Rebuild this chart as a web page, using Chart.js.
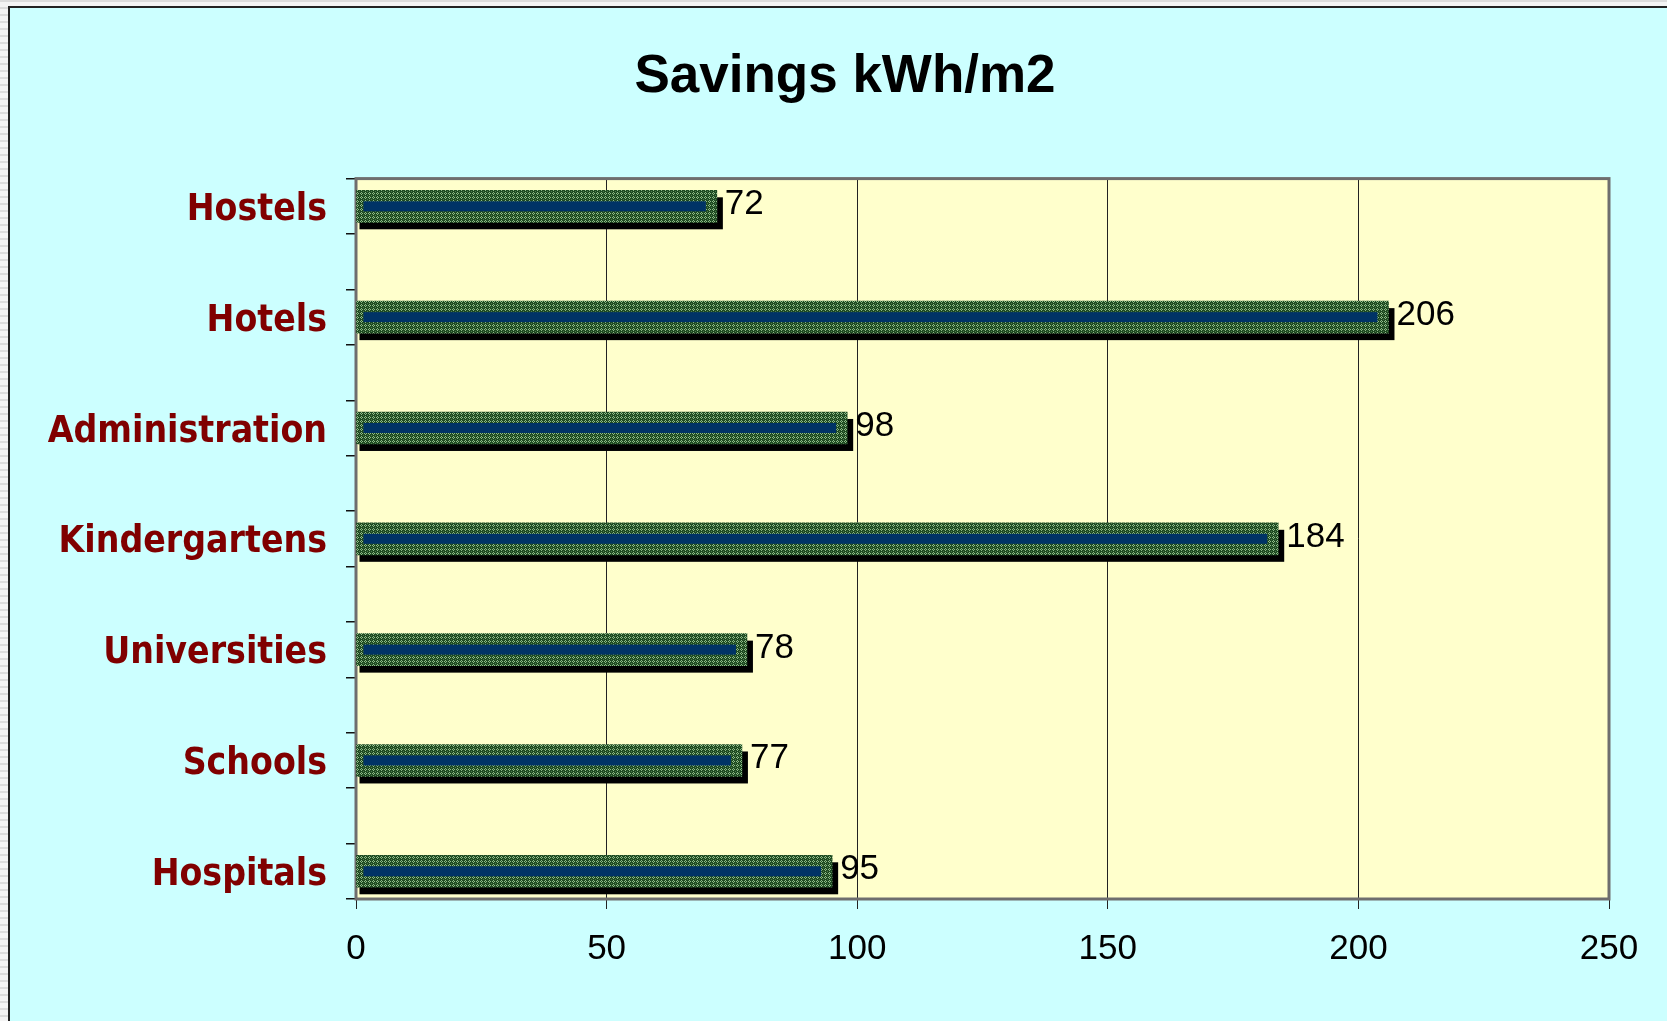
<!DOCTYPE html>
<html><head><meta charset="utf-8">
<script src="https://cdn.jsdelivr.net/npm/chart.js@4.4.1/dist/chart.umd.min.js"></script>
<style>html,body{margin:0;padding:0;background:#fff;overflow:hidden}#wrap{width:1667px;height:1021px}</style>
</head><body><div id="wrap"><canvas id="c" width="1667" height="1021"></canvas></div>
<script>
const categories = ['Hostels','Hotels','Administration','Kindergartens','Universities','Schools','Hospitals'];
const savings = [72, 206, 98, 184, 78, 77, 95];
const xTicks = [0, 50, 100, 150, 200, 250];
const chartTitle = 'Savings kWh/m2';

// the category axis has two slots per category (13 tick intervals for 7 categories)
const slotsPerCategory = 2;
const ySlots = categories.length * slotsPerCategory - 1;
const catPos = categories.map((c, i) => i * slotsPerCategory + 0.5);

function makePattern(ctx){
  const p = document.createElement('canvas'); p.width = 4; p.height = 4;
  const g = p.getContext('2d');
  g.fillStyle = '#1f4a22'; g.fillRect(0,0,4,4);
  g.fillStyle = '#8fbc88';
  g.fillRect(1,0,1,1); g.fillRect(0,1,1,1); g.fillRect(2,1,1,1); g.fillRect(1,2,1,1);
  g.fillStyle = '#4f7f4c';
  g.fillRect(3,3,1,1);
  return ctx.createPattern(p, 'repeat');
}

const decor = {
  id: 'decor',
  beforeDraw(chart){
    const {ctx, chartArea: a, width, height} = chart;
    ctx.save();
    ctx.fillStyle = '#f4f4f4'; ctx.fillRect(0,0,width,height);
    ctx.fillStyle = '#dcdcdc';
    for (let y = 0; y < height; y += 7) ctx.fillRect(0, y, 8, 2);
    ctx.fillRect(0, 0, width, 2);
    ctx.fillStyle = '#ccffff'; ctx.fillRect(8, 6, width - 8, height - 6);
    ctx.strokeStyle = '#222'; ctx.lineWidth = 2;
    ctx.beginPath(); ctx.moveTo(9, height); ctx.lineTo(9, 7); ctx.lineTo(width, 7); ctx.stroke();
    ctx.fillStyle = '#ffffcc'; ctx.fillRect(a.left, a.top, a.right - a.left, a.bottom - a.top);
    ctx.restore();
  },
  beforeDatasetsDraw(chart){
    const {ctx, chartArea: a} = chart;
    ctx.save();
    ctx.strokeStyle = '#6e6e6e'; ctx.lineWidth = 3;
    ctx.strokeRect(a.left, a.top, a.right - a.left, a.bottom - a.top);
    ctx.fillStyle = '#000';
    chart.getDatasetMeta(0).data.forEach(el => {
      const p = el.getProps(['x','y','base','height'], true);
      ctx.fillRect(p.base + 3, p.y - p.height/2 + 7, (p.x + 6) - (p.base + 3), p.height);
    });
    ctx.restore();
  },
  afterDatasetsDraw(chart){
    const {ctx} = chart;
    ctx.save();
    const vals = chart.data.datasets[0].data;
    chart.getDatasetMeta(0).data.forEach((el, i) => {
      const p = el.getProps(['x','y','base','height'], true);
      ctx.fillStyle = '#003366';
      ctx.fillRect(p.base + 7, p.y - 5, (p.x - 11) - (p.base + 7), 10);
      ctx.fillStyle = '#000';
      ctx.font = '35px "Liberation Sans", Arial, sans-serif';
      ctx.textAlign = 'left'; ctx.textBaseline = 'alphabetic';
      ctx.fillText(String(vals[i].x), p.x + 8, p.y + 8);
    });
    ctx.restore();
  }
};

const c = document.getElementById('c');
const pattern = makePattern(c.getContext('2d'));
const padL = 40, padR = 17;

new Chart(c, {
  type: 'bar',
  data: {
    datasets: [{
      data: savings.map((v, i) => ({x: v, y: catPos[i]})),
      backgroundColor: pattern,
      borderWidth: 0,
      barThickness: 32
    }]
  },
  options: {
    indexAxis: 'y',
    responsive: false,
    devicePixelRatio: 1,
    animation: false,
    events: [],
    layout: {padding: {left: padL, right: padR, top: 0, bottom: 32}},
    plugins: {
      legend: {display: false},
      tooltip: {enabled: false},
      title: {
        display: true, text: chartTitle, color: '#000',
        font: {family: '"Liberation Sans", Arial, sans-serif', size: 53, weight: 'bold', lineHeight: 1.2},
        padding: {top: 46, bottom: 69}
      }
    },
    scales: {
      x: {
        type: 'linear', min: xTicks[0], max: xTicks[xTicks.length - 1],
        afterBuildTicks: s => { s.ticks = xTicks.map(v => ({value: v})); },
        afterFit: s => { s.paddingRight = 58; },
        ticks: {color: '#000', padding: 19, maxRotation: 0,
          font: {family: '"Liberation Sans", Arial, sans-serif', size: 35, lineHeight: 1.2}},
        grid: {color: '#222', lineWidth: 1, tickLength: 10, tickColor: '#222', drawTicks: true},
        border: {display: false}
      },
      y: {
        type: 'linear', min: 0, max: ySlots, reverse: true, offset: false,
        afterBuildTicks: s => {
          const t = [];
          for (let k = 0; k <= ySlots; k++) t.push({value: k});
          catPos.forEach(v => t.push({value: v}));
          t.sort((a, b) => a.value - b.value);
          s.ticks = t;
        },
        afterFit: s => { s.width = 356 - padL; },
        ticks: {
          autoSkip: false, padding: 19, color: '#800000', labelOffset: 4,
          font: {family: '"DejaVu Sans Condensed", "DejaVu Sans", sans-serif', size: 37, weight: 'bold', lineHeight: 1.2},
          callback: v => { const i = catPos.indexOf(v); return i >= 0 ? categories[i] : ''; }
        },
        grid: {
          offset: false, drawOnChartArea: false, tickLength: 10, lineWidth: 1.5,
          tickColor: ctx => Number.isInteger(ctx.tick && ctx.tick.value) ? '#111' : 'rgba(0,0,0,0)'
        },
        border: {display: false}
      }
    }
  },
  plugins: [decor]
});
</script></body></html>
